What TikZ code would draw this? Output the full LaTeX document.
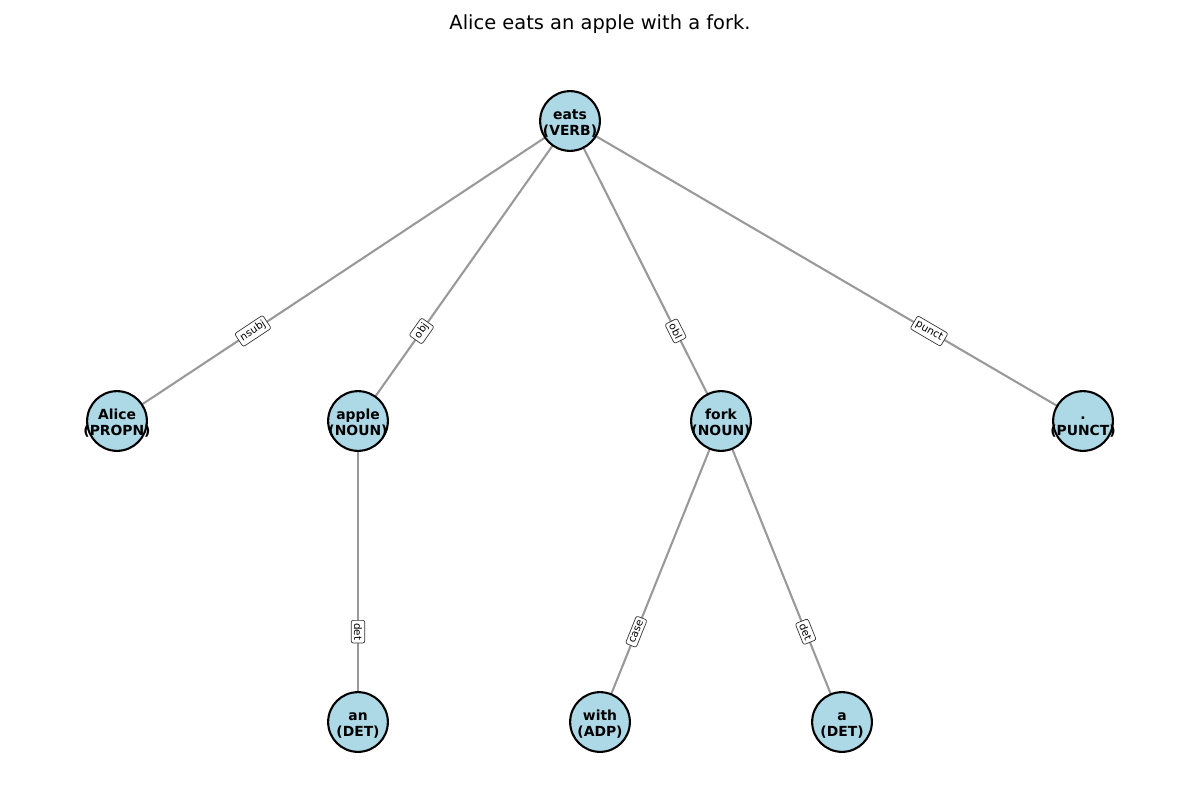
\documentclass[tikz,border=0pt]{standalone}
\usepackage{fontspec}
\setmainfont{DejaVu Sans}
\usetikzlibrary{positioning,backgrounds}
\definecolor{tokblue}{HTML}{ADD8E6}
\definecolor{depgray}{HTML}{999999}
\newcommand{\toklines}[2]{\strut#1\\#2}

\begin{document}
\begin{tikzpicture}[x=0.72pt,y=-0.72pt,
  tok/.style={circle,draw=black,line width=1.5pt,fill=tokblue,minimum size=43pt,inner sep=0pt},
  toktext/.style={align=center,inner sep=0pt,yshift=-1.2pt,font=\bfseries\fontsize{10}{11.8}\selectfont},
  dep/.style={draw=depgray,line width=1.5pt},
  rel/.style={sloped,pos=0.7,fill=white,draw=black!80,line width=0.5pt,rounded corners=1.5pt,inner sep=2pt,font=\fontsize{7.5}{8.5}\selectfont}]

\useasboundingbox (0,0) rectangle (1200,800);

\node (title) at (600,24) {\fontsize{14}{16}\selectfont Alice eats an apple with a fork.};

% tokens
\node[tok,label={[toktext]center:\toklines{eats}{(VERB)}}]    (eats)  at ( 570,121) {};
\node[tok,label={[toktext]center:\toklines{Alice}{(PROPN)}}]  (alice) at ( 117,421) {};
\node[tok,label={[toktext]center:\toklines{apple}{(NOUN)}}]   (apple) at ( 358,421) {};
\node[tok,label={[toktext]center:\toklines{fork}{(NOUN)}}]    (fork)  at ( 721,421) {};
\node[tok,label={[toktext]center:\toklines{.}{(PUNCT)}}]      (stop)  at (1083,421) {};
\node[tok,label={[toktext]center:\toklines{an}{(DET)}}]       (an)    at ( 358,722) {};
\node[tok,label={[toktext]center:\toklines{with}{(ADP)}}]     (with)  at ( 600,722) {};
\node[tok,label={[toktext]center:\toklines{a}{(DET)}}]        (a)     at ( 842,722) {};

% dependencies
\begin{scope}[on background layer]
\draw[dep] (eats.center)  -- node[rel]{nsubj} (alice.center);
\draw[dep] (eats.center)  -- node[rel]{obj}   (apple.center);
\draw[dep] (eats.center)  -- node[rel]{obl}   (fork.center);
\draw[dep] (eats.center)  -- node[rel]{punct} (stop.center);
\draw[dep] (apple.center) -- node[rel]{det}   (an.center);
\draw[dep] (fork.center)  -- node[rel]{case}  (with.center);
\draw[dep] (fork.center)  -- node[rel]{det}   (a.center);
\end{scope}
\end{tikzpicture}
\end{document}
